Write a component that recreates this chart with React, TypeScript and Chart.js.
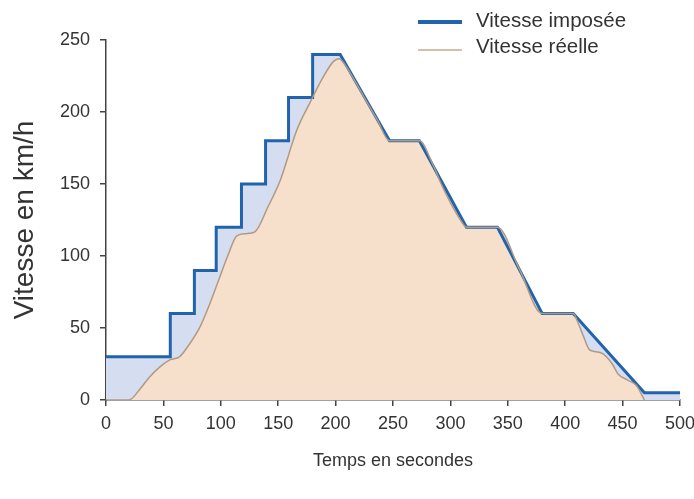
import React, { useEffect, useRef } from "react";
import { Chart, registerables } from "chart.js";

Chart.register(...registerables);

const legendLabels = ["Vitesse imposée", "Vitesse réelle"];
const xTitle = "Temps en secondes";
const yTitle = "Vitesse en km/h";

const xTicks = [0, 50, 100, 150, 200, 250, 300, 350, 400, 450, 500];
const yTicks = [0, 50, 100, 150, 200, 250];

// Vitesse imposée (step profile)
const imposedTimes = [0, 56, 56, 77, 77, 96, 96, 118, 118, 139, 139, 159, 159, 180, 180, 204, 247, 273, 314, 341, 380, 407, 469, 500];
const imposedSpeeds = [30, 30, 60, 60, 90, 90, 120, 120, 150, 150, 180, 180, 210, 210, 240, 240, 180, 180, 120, 120, 60, 60, 5, 5];

// Vitesse réelle
const realTimes = [0, 20, 30, 38, 47, 56, 64, 72, 82, 90, 98, 106, 114, 122, 130, 141, 152, 166, 178, 189, 198, 203, 208, 215, 225, 236, 247, 273, 285, 292, 300, 308, 314, 341, 360, 380, 407, 411, 416, 421, 427, 433, 441, 446, 454, 462, 469];
const realSpeeds = [0, 0, 8, 16, 23, 28, 30, 38, 51, 66, 83, 100, 114, 115.5, 117, 134, 153, 187, 207, 224, 235, 237, 233, 224, 210, 195, 180, 180, 163, 150, 137, 126, 120, 120, 91, 60, 60, 54, 44, 35, 33.5, 32, 25, 18, 14, 10, 0];

const tickFont = { family: "'Liberation Sans', Arial, sans-serif", size: 18 };
const textColor = "#333333";
const axisColor = "#444444";

export default function App() {
  const ref = useRef<HTMLCanvasElement>(null);

  useEffect(() => {
    const canvas = ref.current;
    if (!canvas) return;
    const chart = new Chart(canvas, {
      type: "line",
      data: {
        datasets: [
          {
            label: legendLabels[1],
            data: realTimes.map((t, i) => ({ x: t, y: realSpeeds[i] })),
            borderColor: "#b09a86",
            borderWidth: 1.5,
            backgroundColor: "#f6e0cb",
            fill: "origin",
            pointRadius: 0,
            cubicInterpolationMode: "monotone",
          },
          {
            label: legendLabels[0],
            data: imposedTimes.map((t, i) => ({ x: t, y: imposedSpeeds[i] })),
            borderColor: "#2164ad",
            borderWidth: 3,
            backgroundColor: "#d5ddf0",
            fill: "origin",
            pointRadius: 0,
            tension: 0,
            borderJoinStyle: "miter",
          },
        ],
      },
      options: {
        responsive: false,
        animation: false,
        devicePixelRatio: 1,
        layout: { padding: { left: 0, right: 14, top: 40, bottom: 0 } },
        plugins: {
          legend: { display: false },
          tooltip: { enabled: false },
          filler: { drawTime: "beforeDatasetsDraw" },
        },
        scales: {
          x: {
            type: "linear",
            min: 0,
            max: 500,
            afterBuildTicks: (s: any) => {
              s.ticks = xTicks.map((v) => ({ value: v }));
            },
            afterFit: (s: any) => {
              s.height = 99;
              s.paddingLeft = 0;
              s.paddingRight = 0;
            },
            grid: { display: true, drawOnChartArea: false, drawTicks: true, tickLength: 6, color: axisColor, lineWidth: 1.5 },
            border: { display: true, color: axisColor, width: 1.5 },
            ticks: { font: tickFont, color: textColor, padding: 7, maxRotation: 0 },
            title: {
              display: true,
              text: xTitle,
              font: { family: "'Liberation Sans', Arial, sans-serif", size: 18 },
              color: textColor,
              padding: { top: 0, bottom: 27 },
            },
          },
          y: {
            type: "linear",
            min: 0,
            max: 250,
            afterBuildTicks: (s: any) => {
              s.ticks = yTicks.map((v) => ({ value: v }));
            },
            afterFit: (s: any) => {
              s.width = 106;
              s.paddingTop = 0;
              s.paddingBottom = 0;
            },
            grid: { display: true, drawOnChartArea: false, drawTicks: true, tickLength: 6, color: axisColor, lineWidth: 1.5 },
            border: { display: true, color: axisColor, width: 1.5 },
            ticks: { font: tickFont, color: textColor, padding: 10 },
            title: {
              display: true,
              text: yTitle,
              font: { family: "'Liberation Sans', Arial, sans-serif", size: 28 },
              color: textColor,
              padding: { top: 8, bottom: 0 },
            },
          },
        },
      },
    });
    return () => chart.destroy();
  }, []);

  const legendText: React.CSSProperties = {
    position: "absolute",
    left: 476,
    fontFamily: "'Liberation Sans', Arial, sans-serif",
    fontSize: 20.5,
    lineHeight: "24px",
    color: "#333333",
    whiteSpace: "nowrap",
  };

  return (
    <div style={{ position: "fixed", left: 0, top: 0, width: 694, height: 499, background: "#fff" }}>
      <canvas ref={ref} width={694} height={499} style={{ display: "block", width: 694, height: 499 }} />
      <div style={{ position: "absolute", left: 418, top: 20, width: 44, height: 4, background: "#2164ad" }} />
      <div style={{ ...legendText, top: 8 }}>{legendLabels[0]}</div>
      <div style={{ position: "absolute", left: 418, top: 49, width: 44, height: 2, background: "#d6bea6" }} />
      <div style={{ ...legendText, top: 34 }}>{legendLabels[1]}</div>
    </div>
  );
}
